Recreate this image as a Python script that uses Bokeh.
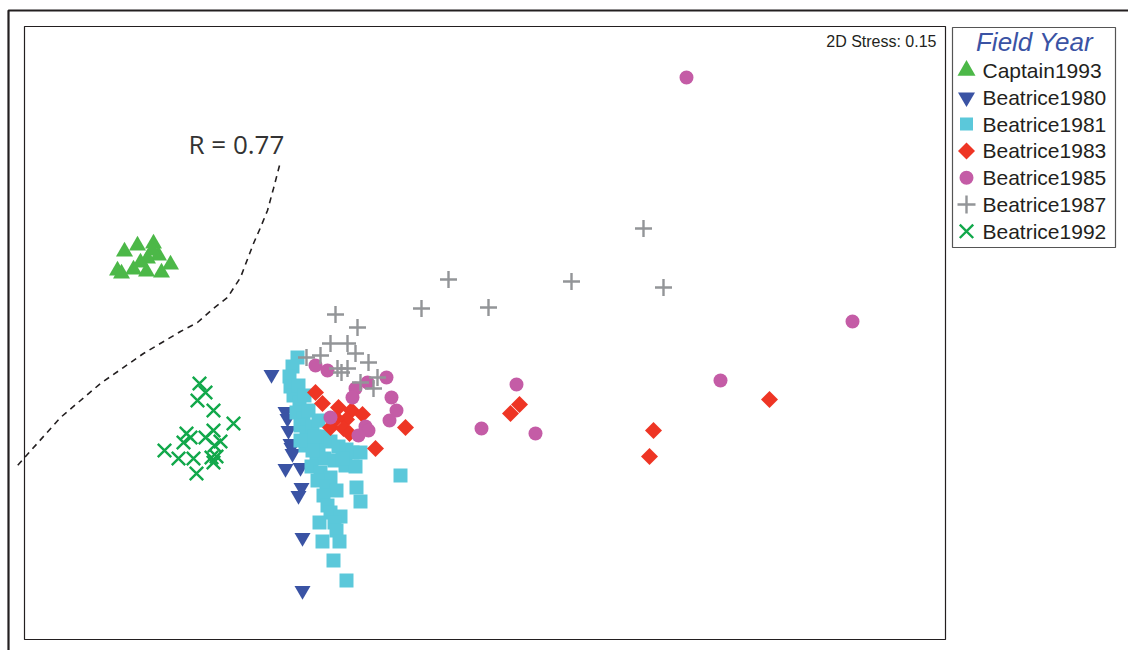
from bokeh.plotting import figure
from bokeh.models import Range1d, Label
from bokeh.core.properties import value
from bokeh.embed import file_html
from bokeh.resources import INLINE

# ---- NMDS ordination scores (arbitrary units) per field year ----
captain1993_x = [-3.76, -3.63, -3.47, -3.42, -3.53, -3.30, -3.83, -3.79, -3.67, -3.54, -3.39, -3.60, -3.48]
captain1993_y = [0.99, 1.05, 1.07, 0.95, 0.92, 0.86, 0.80, 0.77, 0.81, 0.79, 0.78, 0.88, 1.00]

beatrice1980_x = [-2.29, -2.15, -2.13, -2.12, -2.10, -2.09, -2.08, -2.15, -2.00, -1.99, -2.02, -1.98, -1.98]
beatrice1980_y = [-0.24, -0.61, -0.68, -0.80, -0.93, -0.97, -1.03, -1.18, -1.17, -1.37, -1.45, -1.87, -2.40]

beatrice1981_x = [-2.03, -2.08, -2.11, -2.10, -2.07, -2.01, -2.04, -1.97, -1.92, -2.00, -1.94, -1.88,
                  -1.82, -1.90, -1.82, -1.76, -1.70, -1.62, -1.54, -1.48, -1.40, -1.84, -1.76, -1.66,
                  -1.55, -1.45, -1.89, -1.80, -1.70, -1.83, -1.74, -1.64, -1.44, -1.77, -1.40, -1.73,
                  -1.70, -1.60, -1.81, -1.66, -1.64, -1.78, -1.61, -1.67, -1.54, -1.00, -1.95, -1.88,
                  -2.00, -2.02, -1.96, -1.86, -1.58]
beatrice1981_y = [-0.07, -0.16, -0.26, -0.36, -0.45, -0.52, -0.62, -0.68, -0.60, -0.75, -0.82, -0.76,
                  -0.70, -0.90, -0.95, -0.86, -0.91, -0.96, -0.99, -1.02, -1.02, -1.05, -1.08, -1.10,
                  -1.15, -1.16, -1.16, -1.22, -1.27, -1.30, -1.36, -1.40, -1.37, -1.45, -1.51, -1.55,
                  -1.62, -1.66, -1.72, -1.72, -1.80, -1.91, -1.91, -2.10, -2.30, -1.25, -0.95, -1.00,
                  -0.90, -0.35, -0.45, -0.86, -1.08]

beatrice1983_x = [-1.85, -1.78, -1.62, -1.49, -1.38, -1.54, -1.70, -1.57, -1.51, -1.64, -1.25, -0.95,
                  0.10, 0.19, 1.53, 1.49, 2.69]
beatrice1983_y = [-0.42, -0.53, -0.57, -0.60, -0.64, -0.69, -0.77, -0.78, -0.83, -0.68, -0.98, -0.77,
                  -0.63, -0.54, -0.80, -1.06, -0.49]

beatrice1985_x = [1.86, 3.52, 2.20, 0.16, -0.19, 0.35, -1.85, -1.73, -1.45, -1.33, -1.14, -1.48,
                  -1.09, -1.04, -1.11, -1.70, -1.35, -1.32, -1.42]
beatrice1985_y = [2.73, 0.29, -0.30, -0.34, -0.78, -0.83, -0.15, -0.20, -0.38, -0.32, -0.27, -0.47,
                  -0.47, -0.60, -0.70, -0.67, -0.76, -0.80, -0.85]

beatrice1987_x = [1.43, 0.71, -0.52, -0.79, -0.12, 1.63, -1.65, -1.43, -1.53, -1.70, -1.80, -1.94,
                  -1.45, -1.32, -1.63, -1.53, -1.59, -1.23, -1.40, -1.27]
beatrice1987_y = [1.22, 0.69, 0.71, 0.42, 0.43, 0.63, 0.36, 0.23, 0.07, 0.07, -0.05, -0.07,
                  -0.03, -0.12, -0.18, -0.18, -0.22, -0.27, -0.32, -0.38]

beatrice1992_x = [-3.01, -2.95, -3.03, -2.87, -2.67, -2.87, -3.10, -3.17, -3.14, -3.36, -3.22, -3.07,
                  -2.86, -2.80, -2.89, -2.84, -2.87, -3.04, -2.95]
beatrice1992_y = [-0.33, -0.42, -0.50, -0.60, -0.73, -0.80, -0.87, -0.92, -0.83, -1.00, -1.08, -1.08,
                  -0.95, -0.91, -1.07, -1.06, -1.12, -1.23, -0.87]

# cluster boundary at R = 0.77
boundary_x = [-2.21, -2.27, -2.33, -2.40, -2.47, -2.60, -2.73, -2.87, -3.03, -3.20, -3.57, -4.00, -4.40, -4.83]
boundary_y = [1.85, 1.62, 1.40, 1.23, 1.07, 0.73, 0.53, 0.42, 0.28, 0.19, -0.03, -0.33, -0.67, -1.15]
boundary_label = "R = 0.77"
stress_label = "2D Stress: 0.15"

groups = ["Captain1993", "Beatrice1980", "Beatrice1981", "Beatrice1983",
          "Beatrice1985", "Beatrice1987", "Beatrice1992"]
colors = ["#4cb848", "#3a53a4", "#5bc8da", "#ee3524", "#c45ca6", "#939598", "#12a84b"]
markers = ["triangle", "inverted_triangle", "square", "square", "circle", "cross", "x"]
angles = [0, 0, 0, 0.785398, 0, 0, 0]
plot_sizes = [17, 16, 14, 12, 14, 17, 19]
legend_sizes = [18, 17, 13, 12, 14, 18, 19]
series_x = [captain1993_x, beatrice1980_x, beatrice1981_x, beatrice1983_x,
            beatrice1985_x, beatrice1987_x, beatrice1992_x]
series_y = [captain1993_y, beatrice1980_y, beatrice1981_y, beatrice1983_y,
            beatrice1985_y, beatrice1987_y, beatrice1992_y]

W, H = 1128, 650
INK = "#231f20"

# Canvas range in page pixels (y downwards) for the frames and legend;
# the "nmds" ranges carry the ordination scores.
p = figure(width=W, height=H, x_range=Range1d(0, W), y_range=Range1d(H, 0),
           x_axis_type=None, y_axis_type=None, toolbar_location=None,
           output_backend="svg", min_border=0, outline_line_color=None,
           background_fill_color="white", border_fill_color="white")
p.grid.visible = False
p.extra_x_ranges = {"nmds": Range1d(-5.0, 6.28)}
p.extra_y_ranges = {"nmds": Range1d(-3.0, 3.5)}

# outer frame (top and left edges) and plotting box
p.line(x=[8, 8, W + 20], y=[H + 20, 10, 10], line_color=INK, line_width=2.2)
p.quad(left=[24], right=[945], top=[26], bottom=[639], fill_color=None,
       line_color=INK, line_width=1.2)

# group boundary
p.line(boundary_x, boundary_y, x_range_name="nmds", y_range_name="nmds",
       line_color=INK, line_width=1.6, line_dash="6 5")
p.add_layout(Label(x=-3.12, y=2.07, x_range_name="nmds", y_range_name="nmds",
                   text=boundary_label, text_font="Open Sans", text_font_size="26px",
                   text_color="#333333", text_baseline="alphabetic"))

# samples
for gx, gy, c, m, a, s in zip(series_x, series_y, colors, markers, angles, plot_sizes):
    if m in ("cross", "x"):
        p.scatter(gx, gy, marker=m, size=s, angle=a, line_color=c, line_width=2.4,
                  x_range_name="nmds", y_range_name="nmds")
    else:
        p.scatter(gx, gy, marker=m, size=s, angle=a, fill_color=c, line_color=None,
                  x_range_name="nmds", y_range_name="nmds")

p.add_layout(Label(x=936, y=41, text=stress_label, text_font="Liberation Sans",
                   text_font_size="16px", text_color=INK, text_align="right",
                   text_baseline="middle"))

# legend
p.quad(left=[952], right=[1115], top=[27], bottom=[247], fill_color="white",
       line_color="#555555", line_width=1.2)
p.add_layout(Label(x=1034, y=41, text="Field Year", text_font="Liberation Sans",
                   text_font_size="26px", text_font_style="italic", text_color="#3a53a4",
                   text_align="center", text_baseline="middle"))
row_y = [70 + 26.8 * i for i in range(len(groups))]
for i, (c, m, a, s) in enumerate(zip(colors, markers, angles, legend_sizes)):
    if m in ("cross", "x"):
        p.scatter([966], [row_y[i]], marker=m, size=s, angle=a, line_color=c, line_width=2.4)
    else:
        p.scatter([966], [row_y[i]], marker=m, size=s, angle=a, fill_color=c, line_color=None)
p.text(x=[982] * len(groups), y=row_y, text=groups, text_font=value("Liberation Sans"),
       text_font_size="21px", text_color=INK, text_baseline="middle")

open("out.html", "w").write(file_html(p, INLINE))
